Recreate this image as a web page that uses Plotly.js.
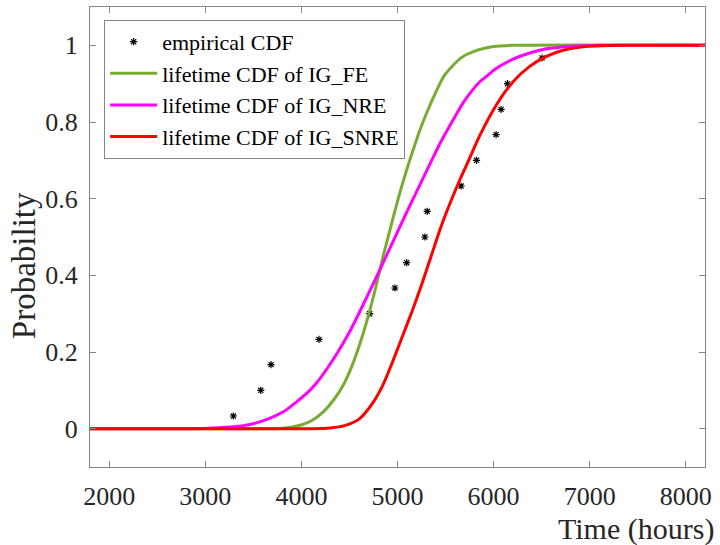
<!DOCTYPE html>
<html><head><meta charset="utf-8">
<script src="https://cdn.plot.ly/plotly-3.0.1.min.js"></script>
<style>html,body{margin:0;padding:0;background:#fff}#chart{width:720px;height:545px}</style>
</head><body><div id="chart"></div>
<script>
// empirical CDF points
const empTime = [3292, 3577, 3684, 4183, 4710, 4973, 5095, 5285, 5309, 5662, 5822, 6026, 6078, 6145, 6504];
const empProb = [0.033, 0.100, 0.167, 0.233, 0.300, 0.367, 0.433, 0.500, 0.567, 0.633, 0.700, 0.767, 0.833, 0.900, 0.967];

// lifetime CDF of IG_FE
const feTime = [1800, 3700, 3812, 3985, 4100, 4228, 4350, 4436, 4520, 4600, 4680, 4760, 4851, 4955, 5059, 5160, 5250, 5340, 5490, 5665, 5840, 6000, 6200, 8200];
const feProb = [0, 0, 0.001, 0.009, 0.02, 0.044, 0.08, 0.114, 0.16, 0.215, 0.28, 0.355, 0.45, 0.551, 0.645, 0.725, 0.79, 0.845, 0.922, 0.968, 0.988, 0.997, 1, 1];

// lifetime CDF of IG_NRE
const nreTime = [1800, 2800, 3100, 3300, 3466, 3650, 3812, 3950, 4055, 4160, 4263, 4380, 4505, 4661, 4780, 4886, 4970, 5059, 5150, 5233, 5337, 5430, 5510, 5600, 5683, 5770, 5857, 5940, 6030, 6203, 6376, 6550, 6792, 7100, 8200];
const nreProb = [0, 0, 0.002, 0.005, 0.011, 0.025, 0.044, 0.07, 0.092, 0.12, 0.155, 0.2, 0.254, 0.333, 0.395, 0.452, 0.497, 0.545, 0.593, 0.636, 0.69, 0.738, 0.775, 0.815, 0.85, 0.88, 0.905, 0.922, 0.94, 0.964, 0.98, 0.991, 0.997, 1, 1];

// lifetime CDF of IG_SNRE
const snreTime = [1800, 4100, 4300, 4450, 4600, 4750, 4850, 4950, 5050, 5150, 5250, 5350, 5450, 5550, 5650, 5750, 5857, 6030, 6203, 6376, 6550, 6723, 6931, 7300, 8200];
const snreProb = [0, 0, 0.002, 0.008, 0.025, 0.07, 0.115, 0.175, 0.24, 0.305, 0.375, 0.45, 0.525, 0.59, 0.65, 0.705, 0.765, 0.845, 0.905, 0.945, 0.971, 0.987, 0.996, 1, 1];

const seriesNames = ['empirical CDF', 'lifetime CDF of IG_FE', 'lifetime CDF of IG_NRE', 'lifetime CDF of IG_SNRE'];
const xTicks = [2000, 3000, 4000, 5000, 6000, 7000, 8000];
const yTicks = [0, 0.2, 0.4, 0.6, 0.8, 1];
const yTickText = ['0', '0.2', '0.4', '0.6', '0.8', '1'];

const FONT = 'Liberation Serif';

const lineStyle = (c) => ({color: c, width: 3, shape: 'spline', smoothing: 0.7});

const traces = [
  {x: empTime, y: empProb, mode: 'markers', type: 'scatter', name: seriesNames[0],
   marker: {symbol: 'asterisk-open', size: 6, color: '#000', line: {color: '#000', width: 1.2}}},
  {x: feTime, y: feProb, mode: 'lines', type: 'scatter', name: seriesNames[1], line: lineStyle('#77AC30')},
  {x: nreTime, y: nreProb, mode: 'lines', type: 'scatter', name: seriesNames[2], line: lineStyle('#FF00FF')},
  {x: snreTime, y: snreProb, mode: 'lines', type: 'scatter', name: seriesNames[3], line: lineStyle('#FF0000')}
];

const axisCommon = {
  showgrid: false, zeroline: false, showline: true, mirror: 'ticks',
  linecolor: '#868686', linewidth: 1, ticks: 'inside', ticklen: 6, tickcolor: '#868686',
  tickfont: {family: FONT, size: 26, color: '#262626'}
};

const layout = {
  width: 720, height: 545,
  margin: {l: 90, r: 15, t: 7, b: 78},
  paper_bgcolor: '#fff', plot_bgcolor: '#fff',
  font: {family: FONT, color: '#262626'},
  showlegend: true,
  legend: {x: 0.023, y: 0.972, xanchor: 'left', yanchor: 'top',
    bgcolor: '#fff', bordercolor: '#868686', borderwidth: 1, itemwidth: 47,
    font: {family: FONT, size: 22, color: '#000'}, tracegroupgap: 0},
  xaxis: Object.assign({}, axisCommon, {range: [1800, 8200], tickvals: xTicks, ticktext: xTicks.map(String), ticklabelstandoff: 6}),
  yaxis: Object.assign({}, axisCommon, {range: [-0.1, 1.1], tickvals: yTicks, ticktext: yTickText, ticklabelstandoff: 6}),
  annotations: [
    {text: 'Time (hours)', xref: 'paper', yref: 'paper', x: 1.018, y: -0.135, xanchor: 'right', yanchor: 'middle',
     showarrow: false, font: {family: FONT, size: 30, color: '#262626'}},
    {text: 'Probability', xref: 'paper', yref: 'paper', x: -0.107, y: 0.437, xanchor: 'center', yanchor: 'middle',
     textangle: -90, showarrow: false, font: {family: FONT, size: 33, color: '#262626'}}
  ]
};

Plotly.newPlot('chart', traces, layout, {displayModeBar: false, staticPlot: true});
</script></body></html>
